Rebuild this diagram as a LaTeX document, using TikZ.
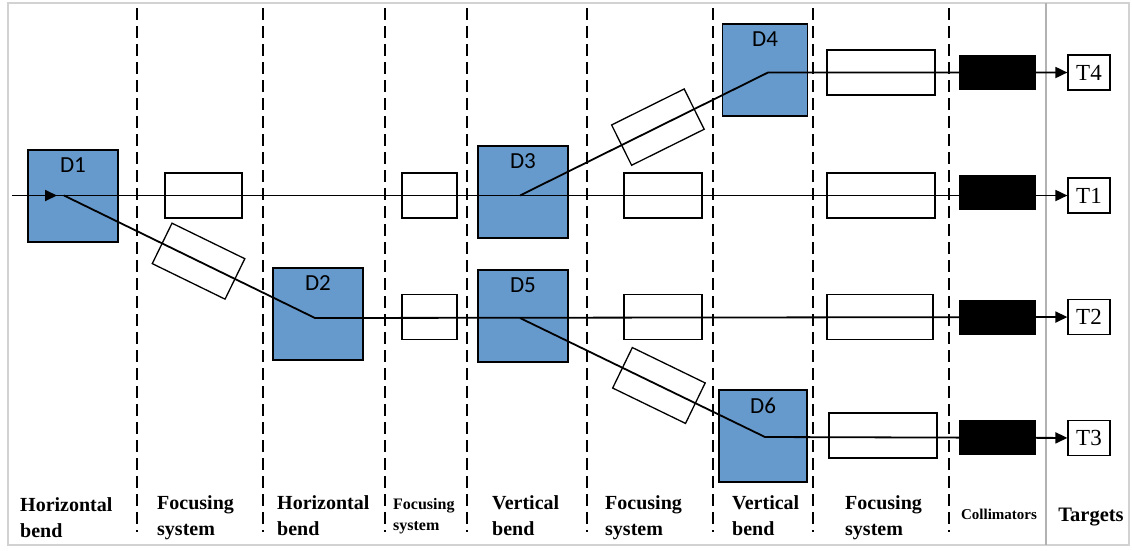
\documentclass[tikz,border=0pt]{standalone}
\usepackage{fontspec}
\setmainfont{Liberation Serif}
\newfontfamily\dipfont{Carlito}
\usetikzlibrary{arrows.meta}
\definecolor{dipblue}{RGB}{102,153,204}

\tikzset{
  dipbox/.style={draw, fill=dipblue, line width=1.4pt, minimum width=90pt, minimum height=92pt, inner sep=0pt},
  dtext/.style={anchor=north, inner sep=8pt, font=\dipfont\fontsize{23}{23}\selectfont},
  focbox/.style={draw, line width=1.3pt, minimum height=45pt, inner sep=0pt},
  tiltbox/.style={focbox, minimum width=81pt, sloped},
  colbox/.style={fill=black, minimum width=77pt, minimum height=35pt, inner sep=0pt},
  tgtbox/.style={draw, line width=1.2pt, minimum width=42pt, minimum height=35pt, inner sep=0pt, font=\fontsize{23}{23}\selectfont},
  zone/.style={anchor=north west, inner sep=0pt, align=left, font=\bfseries\fontsize{20}{26}\selectfont},
  smallzone/.style={zone, font=\bfseries\fontsize{16}{21}\selectfont},
  divider/.style={dash pattern=on 12pt off 6pt, line width=1.4pt},
  beam/.style={line width=1.8pt},
}

\begin{document}
\begin{tikzpicture}[x=1pt, y=-1pt, >={Triangle[length=12pt,width=11pt]}]
    \useasboundingbox (0,0) rectangle (1132,550);
    % frame
    \draw[gray!35, line width=1.5pt] (8,3) rectangle (1129,545);
    \draw[gray!60, line width=2.5pt] (1046,3) -- (1046,545);
    \foreach \x in {137,263,385,467,587,713,813,949}
        \draw[divider] (\x,8) -- (\x,532);
    % dipoles
    \node[dipbox, label={[dtext]north:D1}] (D1) at (73,196) {};
    \node[dipbox, label={[dtext]north:D2}] (D2) at (318,314) {};
    \node[dipbox, label={[dtext]north:D3}] (D3) at (523,192) {};
    \node[dipbox, label={[dtext]north:D5}] (D5) at (523,316) {};
    \node[dipbox, minimum width=85pt, label={[dtext]north:D4}] (D4) at (765,70) {};
    \node[dipbox, minimum width=88pt, label={[dtext]north:D6}] (D6) at (763,436) {};
    % focusing systems
    \node[focbox, minimum width=77pt] (F11) at (203.5,195.5) {};
    \node[focbox, minimum width=55pt] (F12) at (429.5,195.5) {};
    \node[focbox, minimum width=78pt] (F13) at (663,195.5) {};
    \node[focbox, minimum width=108pt] (F14) at (881,195.5) {};
    \node[focbox, minimum width=108pt] (F41) at (881,72.5) {};
    \node[focbox, minimum width=55pt] (F22) at (429.5,317) {};
    \node[focbox, minimum width=78pt] (F23) at (663,317) {};
    \node[focbox, minimum width=106pt] (F24) at (880,317) {};
    \node[focbox, minimum width=108pt] (F31) at (883,435.5) {};
    % collimators
    \node[colbox] (C4) at (997,72.5) {};
    \node[colbox] (C1) at (997,192.5) {};
    \node[colbox] (C2) at (997,317.5) {};
    \node[colbox] (C3) at (997,437.5) {};
    % targets
    \node[tgtbox] (T4) at (1089,72.5) {T4};
    \node[tgtbox] (T1) at (1089,195.5) {T1};
    \node[tgtbox] (T2) at (1089,317) {T2};
    \node[tgtbox] (T3) at (1089,438) {T3};
    % beam lines
    \coordinate (src) at (12,195.5);
    \coordinate (tip) at (57,195.5);
    \coordinate (b1) at (64,195.5);
    \coordinate (b2) at (315,318);
    \coordinate (b3) at (520,195.5);
    \coordinate (b4) at (768,72.5);
    \coordinate (b5) at (520,318);
    \coordinate (b6) at (765,437);
    \draw[beam,->] (src) -- (tip);
    \draw[beam,->] (src) -- (b3) -- (T1);
    \draw[beam,->] (b1) -- node[tiltbox, pos=.536] (F21) {} (b2) -- (T2);
    \draw[beam,->] (b3) -- node[tiltbox, pos=.556] (F42) {} (b4) -- (T4);
    \draw[beam,->] (b5) -- node[tiltbox, pos=.567] (F32) {} (b6) -- (T3);
    % section names
    \node[zone] (z1) at (20,497) {Horizontal\\bend};
    \node[zone] (z2) at (157,495) {Focusing\\system};
    \node[zone] (z3) at (277,495) {Horizontal\\bend};
    \node[smallzone] (z4) at (393,498) {Focusing\\system};
    \node[zone] (z5) at (492,495) {Vertical\\bend};
    \node[zone] (z6) at (605,495) {Focusing\\system};
    \node[zone] (z7) at (732,495) {Vertical\\bend};
    \node[zone] (z8) at (845,495) {Focusing\\system};
    \node[font=\bfseries\fontsize{15}{15}\selectfont] (z9) at (999,514) {Collimators};
    \node[font=\bfseries\fontsize{20.5}{20.5}\selectfont] (z10) at (1091,517) {Targets};
\end{tikzpicture}
\end{document}
